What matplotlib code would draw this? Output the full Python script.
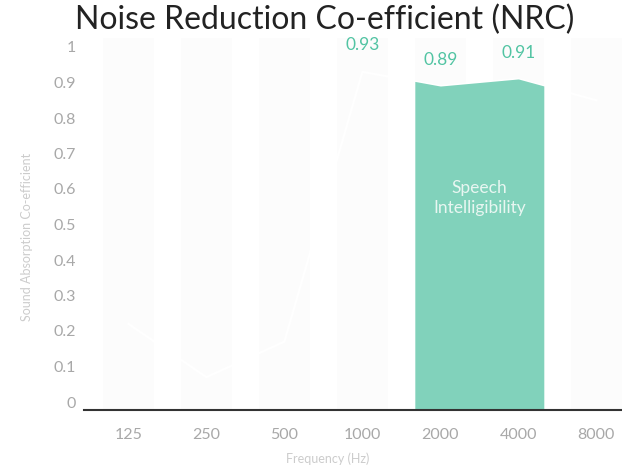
import matplotlib
matplotlib.use("Agg")
import matplotlib.pyplot as plt
import numpy as np

categories = ["125", "250", "500", "1000", "2000", "4000", "8000"]
absorption = [0.22, 0.07, 0.17, 0.93, 0.89, 0.91, 0.85]
highlight = ["2000", "4000"]
value_labels = {"1000": "0.93", "2000": "0.89", "4000": "0.91"}
yticks = [0, 0.1, 0.2, 0.3, 0.4, 0.5, 0.6, 0.7, 0.8, 0.9, 1]
ytick_labels = ["0", "0.1", "0.2", "0.3", "0.4", "0.5", "0.6", "0.7", "0.8", "0.9", "1"]

TEAL = "#81d2bb"
TEAL_TEXT = "#52c4a3"
FONT = "Lato"

fig = plt.figure(figsize=(6.22, 4.70), dpi=100)
ax = fig.add_axes([84/622, 60/470, 538/622, 372/470])

x = np.arange(len(categories))
ymin, ymax = -8/355, 364/355
ax.set_xlim(-0.57, 6.33)
ax.set_ylim(ymin, ymax)

bw = 0.654
ax.bar(x, ymax - ymin, bottom=ymin, width=bw, color="#fcfcfc", zorder=1)
ax.plot(x, absorption, color="white", lw=1.6, zorder=2)

i0 = categories.index(highlight[0])
i1 = categories.index(highlight[-1])
xf = np.linspace(i0 - bw/2, i1 + bw/2, 200)
yf = np.interp(xf, x, absorption)
ax.fill_between(xf, ymin, yf, color=TEAL, lw=0, zorder=3)

for cat, lab in value_labels.items():
    i = categories.index(cat)
    ax.annotate(lab, (x[i], absorption[i]), xytext=(0, 19), textcoords="offset points",
                ha="center", va="center", color=TEAL_TEXT, fontsize=12.5,
                family=FONT, zorder=5)

ax.text((i0 + i1)/2, 0.575, "Speech\nIntelligibility", ha="center", va="center",
        color="#e8f6f1", fontsize=12.5, family=FONT,
        linespacing=1.35, zorder=5)

ax.set_xticks(x)
ax.set_xticklabels(categories)
ax.set_yticks(yticks)
ax.set_yticklabels(ytick_labels)
for lbl in ax.get_xticklabels() + ax.get_yticklabels():
    lbl.set_family(FONT)
    lbl.set_fontsize(11.5)
    lbl.set_color("#a8a8a8")
ax.tick_params(axis="both", length=0)
ax.tick_params(axis="x", pad=13)
ax.tick_params(axis="y", pad=6)

for s in ["top", "right", "left"]:
    ax.spines[s].set_visible(False)
ax.spines["bottom"].set_color("#333333")
ax.spines["bottom"].set_linewidth(1.5)
ax.spines["bottom"].set_zorder(6)

fig.text(325/622, 1 - 20/470, "Noise Reduction Co-efficient (NRC)", ha="center", va="center",
         fontsize=23, family=FONT, color="#222222")
fig.text(328/622, 1 - 459/470, "Frequency (Hz)", ha="center", va="center",
         fontsize=9, family=FONT, color="#cccccc")
fig.text(27/622, 1 - 237/470, "Sound Absorption Co-efficient", ha="center", va="center",
         rotation=90, fontsize=9, family=FONT, color="#cccccc")

fig.savefig("out.png", dpi=100)
